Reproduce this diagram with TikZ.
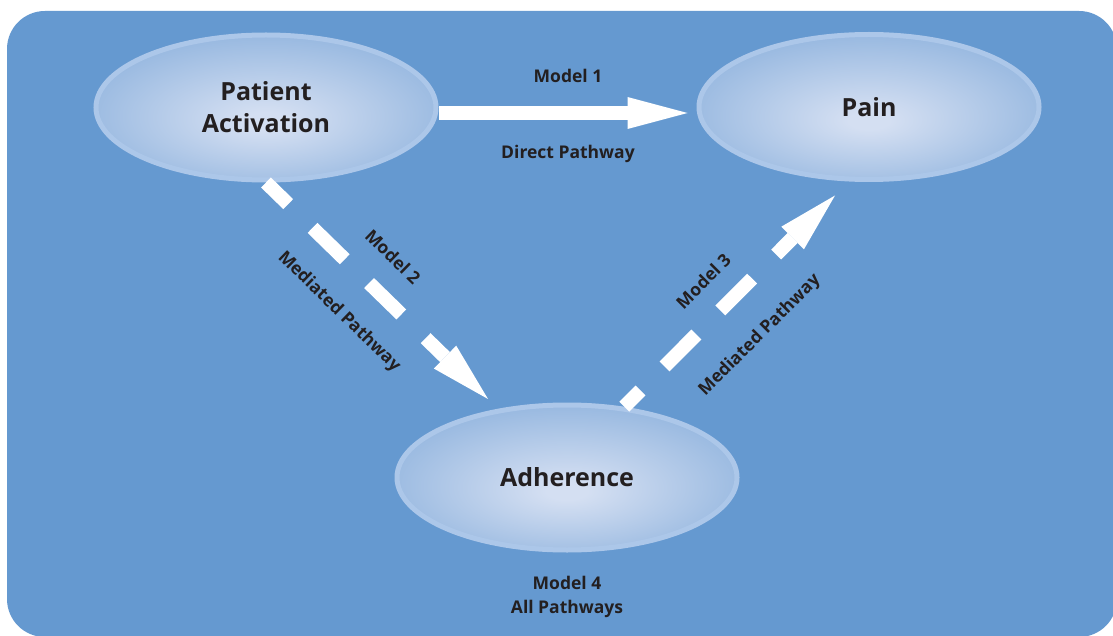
\documentclass[tikz,border=0pt]{standalone}
\usepackage{fontspec}
\setmainfont{Open Sans}
\usetikzlibrary{shapes.geometric,arrows.meta,positioning}

\definecolor{panelblue}{RGB}{101,153,208}
\definecolor{ellinner}{RGB}{212,223,242}
\definecolor{ellouter}{RGB}{104,154,210}
\definecolor{ellrim}{RGB}{172,199,233}
\definecolor{inkdark}{RGB}{35,31,32}

\pgfdeclareradialshading{ellglow}{\pgfpoint{0bp}{-5bp}}{color(0bp)=(ellinner); color(3bp)=(ellinner); color(47bp)=(ellouter); color(50bp)=(ellouter)}

\begin{document}
\begin{tikzpicture}[x=1pt, y=-1pt,
    factor/.style={ellipse, draw=ellrim, line width=5pt, shade, shading=ellglow,
      minimum width=340pt, minimum height=145pt, text=inkdark,
      font=\fontsize{25}{32}\selectfont\bfseries, align=center},
    pathlabel/.style={text=inkdark, font=\fontsize{17.5}{24}\selectfont\bfseries, inner sep=0pt},
    pathway/.style={draw=white, line width=14pt,
      -{Triangle[length=60pt, width=32pt, line width=0pt]}},
    mediated/.style={pathway, dash pattern=on 45pt off 34pt}]
    \useasboundingbox (0,0) rectangle (1113,636);

    % Draw the panel
    \fill[white] (0,0) rectangle (1113,636);
    \fill[panelblue, rounded corners=38pt] (7,11) rectangle (1117,637);

    % Draw the three factors
    \node[factor] (pa) at (266,107.5) {Patient\\Activation};
    \node[factor] (pain) at (869,107) {Pain};
    \node[factor] (adh) at (567,477.5) {Adherence};

    % Model 1: direct pathway
    \draw[pathway] ([yshift=-5.5pt]pa.east) -- ([xshift=-9pt,yshift=-6pt]pain.west)
        node[pathlabel, pos=.52, above=23pt] (m1) {Model 1}
        node[pathlabel, pos=.52, below=25pt] (d1) {Direct Pathway};

    % Model 2: mediated pathway, down to adherence
    \draw[mediated, dash phase=14pt] (pa.south) -- ([shift={(-79,-3.5)}]adh.north)
        node[pathlabel, sloped, pos=.46, above=22pt] (m2) {Model 2}
        node[pathlabel, sloped, pos=.46, below=26pt] (d2) {Mediated Pathway};

    % Model 3: mediated pathway, up to pain
    \draw[mediated, dash phase=22pt] (adh.51) -- ([shift={(-34,13.5)}]pain.south)
        node[pathlabel, sloped, pos=.485, above=19pt] (m3) {Model 3}
        node[pathlabel, sloped, pos=.49, below=30pt] (d3) {Mediated Pathway};

    % Model 4: all pathways
    \node[pathlabel, align=center, below=23pt of adh] (m4) {Model 4\\All Pathways};
\end{tikzpicture}
\end{document}
